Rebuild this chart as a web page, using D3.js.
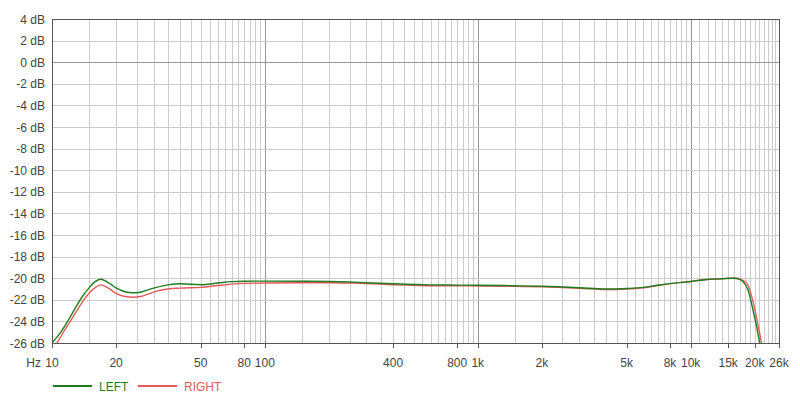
<!DOCTYPE html>
<html>
<head>
<meta charset="utf-8">
<script src="https://cdn.jsdelivr.net/npm/d3@7"></script>
<style>
  html, body { margin: 0; padding: 0; background: #fff; }
  svg { display: block; font-family: "Liberation Sans", Arial, sans-serif; }
</style>
</head>
<body>
<svg id="chart" width="800" height="400"></svg>
<script>
// ---- data ----
const freqs = [10, 10.5, 11, 12, 13, 14, 15, 16, 17, 18, 19, 20, 22, 24, 26, 28, 31, 35, 40, 50, 60, 70, 80, 100,
  150, 200, 250, 300, 400, 500, 600, 800, 1000, 1500, 2000, 3000, 4000, 5000, 6000, 7000, 8000, 10000,
  12000, 14000, 16000, 16600, 17600, 18600, 19600, 20700, 21500, 22000];
const leftDb = [-26.0, -25.5, -25.0, -23.8, -22.6, -21.6, -20.85, -20.3, -20.1, -20.3, -20.6, -20.9, -21.25, -21.35, -21.3, -21.1, -20.85, -20.62, -20.52, -20.6, -20.45, -20.32, -20.28, -20.27,
  -20.28, -20.3, -20.35, -20.42, -20.52, -20.58, -20.62, -20.64, -20.65, -20.7, -20.75, -20.88, -21.0, -20.95, -20.85, -20.65, -20.5, -20.3,
  -20.12, -20.05, -20.0, -20.05, -20.3, -21.1, -22.9, -25.1, -27.0, -28.2];
const rightDb = [-27.0, -26.1, -25.4, -24.2, -23.1, -22.1, -21.35, -20.85, -20.62, -20.8, -21.1, -21.4, -21.7, -21.77, -21.7, -21.5, -21.2, -21.0, -20.92, -20.85, -20.68, -20.55, -20.48, -20.45,
  -20.42, -20.42, -20.45, -20.5, -20.6, -20.65, -20.7, -20.7, -20.72, -20.76, -20.8, -20.93, -21.05, -21.0, -20.88, -20.68, -20.5, -20.3,
  -20.1, -20.05, -19.98, -20.0, -20.2, -20.65, -22.1, -24.3, -26.0, -27.3];
const seriesNames = ["LEFT", "RIGHT"];
const xTickValues = [10, 20, 50, 80, 100, 400, 800, 1000, 2000, 5000, 8000, 10000, 15000, 20000, 26000];
const xTickLabels = ["10", "20", "50", "80", "100", "400", "800", "1k", "2k", "5k", "8k", "10k", "15k", "20k", "26k"];
const yTickValues = [4, 2, 0, -2, -4, -6, -8, -10, -12, -14, -16, -18, -20, -22, -24, -26];

// ---- layout ----
const W = 800, H = 400;
const m = { left: 52, right: 21, top: 19, bottom: 57 };
const pw = W - m.left - m.right, ph = H - m.top - m.bottom;
const colors = { LEFT: "#1f7d1f", RIGHT: "#e25a5a" };
const textCol = "#444";

const svg = d3.select("#chart");
const x = d3.scaleLog().domain([10, 26000]).range([m.left, m.left + pw]);
const y = d3.scaleLinear().domain([-26, 4]).range([m.top + ph, m.top]);

// grid lines (vertical)
const gridX = [];
for (let f = 15; f < 100; f += 5) gridX.push(f);
for (let f = 100; f < 1000; f += 50) gridX.push(f);
for (let f = 1000; f < 10000; f += 500) gridX.push(f);
for (let f = 10000; f < 26000; f += 1000) gridX.push(f);
const decades = [100, 1000, 10000];

const grid = svg.append("g");
grid.selectAll("line.gx").data(gridX).enter().append("line")
  .attr("x1", d => Math.round(x(d)) + 0.5).attr("x2", d => Math.round(x(d)) + 0.5)
  .attr("y1", m.top).attr("y2", m.top + ph)
  .attr("stroke", d => decades.includes(d) ? "#999" : "#ccc")
  .attr("stroke-width", 1);
grid.selectAll("line.gy").data(yTickValues).enter().append("line")
  .attr("x1", m.left).attr("x2", m.left + pw)
  .attr("y1", d => Math.round(y(d)) + 0.5).attr("y2", d => Math.round(y(d)) + 0.5)
  .attr("stroke", d => d === 0 ? "#999" : "#ccc")
  .attr("stroke-width", 1);

// frame
svg.append("rect")
  .attr("x", m.left + 0.5).attr("y", m.top + 0.5)
  .attr("width", pw).attr("height", ph)
  .attr("fill", "none").attr("stroke", "#555").attr("stroke-width", 1);

// x ticks
const xt = svg.append("g");
xt.selectAll("line").data(xTickValues).enter().append("line")
  .attr("x1", d => Math.round(x(d)) + 0.5).attr("x2", d => Math.round(x(d)) + 0.5)
  .attr("y1", m.top + ph).attr("y2", m.top + ph + 5)
  .attr("stroke", "#555");
xt.selectAll("text").data(xTickValues).enter().append("text")
  .attr("x", d => x(d)).attr("y", m.top + ph + 24)
  .attr("text-anchor", "middle")
  .attr("font-size", 12).attr("fill", textCol)
  .text((d, i) => xTickLabels[i]);
svg.append("text").attr("x", 41).attr("y", m.top + ph + 24)
  .attr("text-anchor", "end").attr("font-size", 12).attr("fill", textCol).text("Hz");

// y labels
svg.append("g").selectAll("text").data(yTickValues).enter().append("text")
  .attr("x", 45).attr("y", d => y(d) + 4.5)
  .attr("text-anchor", "end").attr("font-size", 12).attr("fill", textCol)
  .text(d => d + " dB");

// curves
svg.append("clipPath").attr("id", "clip").append("rect")
  .attr("x", m.left).attr("y", m.top).attr("width", pw).attr("height", ph);
const line = d3.line().x(d => x(d[0])).y(d => y(d[1])).curve(d3.curveMonotoneX);
const series = [
  { name: "LEFT", values: leftDb },
  { name: "RIGHT", values: rightDb }
];
const curves = svg.append("g").attr("clip-path", "url(#clip)");
[series[1], series[0]].forEach(s => {
  curves.append("path")
    .datum(freqs.map((f, i) => [f, s.values[i]]))
    .attr("d", line)
    .attr("fill", "none")
    .attr("stroke", colors[s.name])
    .attr("stroke-width", 1.4);
});

// legend
const lg = svg.append("g");
const legX = [53, 138];
seriesNames.forEach((n, i) => {
  lg.append("line").attr("x1", legX[i]).attr("x2", legX[i] + 39)
    .attr("y1", 386).attr("y2", 386)
    .attr("stroke", colors[n]).attr("stroke-width", 2);
  lg.append("text").attr("x", legX[i] + 46).attr("y", 390.5)
    .attr("font-size", 12).attr("fill", colors[n]).text(n);
});
</script>
</body>
</html>
